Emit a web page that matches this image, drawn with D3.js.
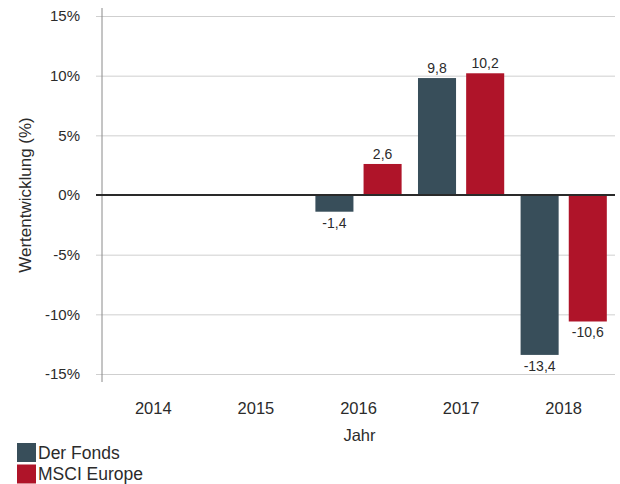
<!DOCTYPE html>
<html>
<head>
<meta charset="utf-8">
<script src="https://cdn.jsdelivr.net/npm/d3@7"></script>
<style>
  body { margin: 0; background: #fff; }
  svg { display: block; font-family: "Liberation Sans", Arial, sans-serif; }
</style>
</head>
<body>
<svg width="620" height="484"></svg>
<script>
const years = ['2014', '2015', '2016', '2017', '2018'];
const seriesNames = ['Der Fonds', 'MSCI Europe'];
const fondsValues = [null, null, -1.4, 9.8, -13.4];
const msciValues = [null, null, 2.6, 10.2, -10.6];
const yTicks = [-15, -10, -5, 0, 5, 10, 15];
const colors = ['#384e5a', '#af1429'];

const svg = d3.select('svg');
const textColor = '#2b2b2b';

const plot = { left: 102, right: 615, top: 16, bottom: 374 };

const xScale = d3.scaleBand()
    .domain(years)
    .range([plot.left, plot.right]);

const xInner = d3.scaleBand()
    .domain(seriesNames)
    .range([0, xScale.bandwidth()])
    .paddingInner(0.21)
    .paddingOuter(0.17);

const yScale = d3.scaleLinear()
    .domain([-15, 15])
    .range([plot.bottom, plot.top]);

// gridlines + y tick labels
const yAxis = d3.axisLeft(yScale)
    .tickValues(yTicks)
    .tickFormat(d => d + '%')
    .tickSize(-(plot.right - 96))
    .tickPadding(16);

const yAxisG = svg.append('g')
    .attr('transform', 'translate(96, 0)')
    .call(yAxis);

yAxisG.select('.domain').remove();
yAxisG.selectAll('.tick line')
    .attr('stroke', '#cfcfcf');
yAxisG.selectAll('.tick text')
    .attr('fill', textColor)
    .style('font-size', '15px');

// vertical axis line
svg.append('line')
    .attr('x1', plot.left).attr('x2', plot.left)
    .attr('y1', plot.top - 8).attr('y2', plot.bottom + 8)
    .attr('stroke', '#8a8a8a');

// x axis labels
const xAxisG = svg.append('g')
    .attr('transform', `translate(0, ${plot.bottom})`)
    .call(d3.axisBottom(xScale).tickSize(0));

xAxisG.select('.domain').remove();
xAxisG.selectAll('.tick text')
    .attr('y', 40)
    .attr('dy', 0)
    .attr('fill', textColor)
    .style('font-size', '16.5px');

// bars
const rows = [];
years.forEach((y, i) => {
    rows.push({ year: y, series: seriesNames[0], value: fondsValues[i] });
    rows.push({ year: y, series: seriesNames[1], value: msciValues[i] });
});
const barData = rows.filter(d => d.value !== null);
const colorScale = d3.scaleOrdinal().domain(seriesNames).range(colors);

svg.selectAll('rect.bar').data(barData)
    .enter().append('rect')
    .attr('class', 'bar')
    .attr('x', d => xScale(d.year) + xInner(d.series))
    .attr('width', xInner.bandwidth())
    .attr('y', d => yScale(Math.max(0, d.value)))
    .attr('height', d => Math.abs(yScale(d.value) - yScale(0)))
    .attr('fill', d => colorScale(d.series));

svg.selectAll('text.val').data(barData)
    .enter().append('text')
    .attr('class', 'val')
    .attr('x', d => xScale(d.year) + xInner(d.series) + xInner.bandwidth() / 2)
    .attr('y', d => d.value >= 0 ? yScale(d.value) - 5 : yScale(d.value) + 16)
    .attr('text-anchor', 'middle')
    .attr('fill', textColor)
    .style('font-size', '14px')
    .text(d => String(d.value).replace('.', ','));

// zero line
svg.append('line')
    .attr('x1', 96).attr('x2', plot.right)
    .attr('y1', yScale(0)).attr('y2', yScale(0))
    .attr('stroke', '#2a2a2a')
    .attr('stroke-width', 2);

// axis titles
svg.append('text')
    .attr('transform', `translate(31, ${(plot.top + plot.bottom) / 2}) rotate(-90)`)
    .attr('text-anchor', 'middle')
    .attr('fill', textColor)
    .style('font-size', '17px')
    .text('Wertentwicklung (%)');

svg.append('text')
    .attr('x', (plot.left + plot.right) / 2 + 1)
    .attr('y', 441)
    .attr('text-anchor', 'middle')
    .attr('fill', textColor)
    .style('font-size', '16.5px')
    .text('Jahr');

// legend
const legend = svg.append('g');
seriesNames.forEach((name, i) => {
    legend.append('rect')
        .attr('x', 17).attr('y', 443 + i * 21.5)
        .attr('width', 19).attr('height', 19)
        .attr('fill', colors[i]);
    legend.append('text')
        .attr('x', 38).attr('y', 458.5 + i * 21.5)
        .attr('fill', textColor)
        .style('font-size', '17.5px')
        .text(name);
});
</script>
</body>
</html>
